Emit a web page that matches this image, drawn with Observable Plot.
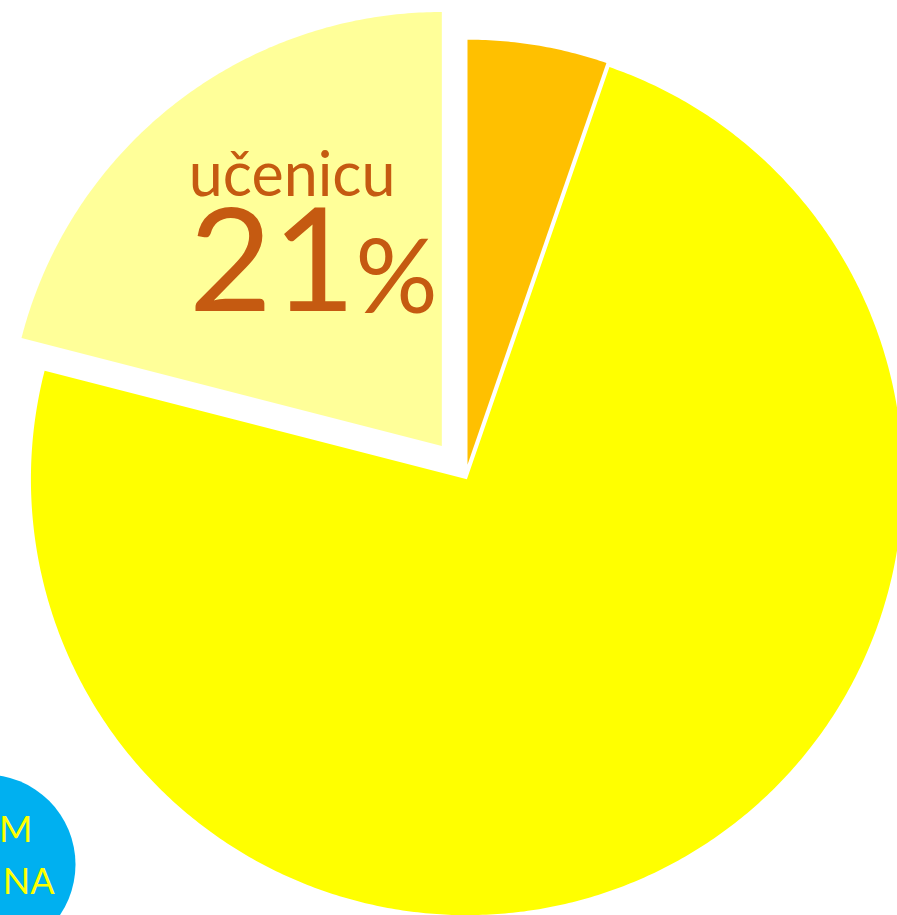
<!DOCTYPE html>
<html><head><meta charset="utf-8">
<script src="https://cdn.jsdelivr.net/npm/d3@7"></script>
<script src="https://cdn.jsdelivr.net/npm/@observablehq/plot@0.6"></script>
<style>html,body{margin:0;padding:0;background:#fff;overflow:hidden}svg{display:block}</style>
</head><body><div id="chart"></div>
<script>
// ---- data ----
const categories = ["segment 1", "segment 2", "učenicu"];
const shares = [5.3, 73.7, 21];
const sliceColors = ["#FFC000", "#FFFF00", "#FFFF99"];
const labelCategory = "učenicu";
const badgeLines = ["M", "NA"];

// ---- layout ----
const W = 897, H = 915;
const cx = 465, cy = 476, S = 436;
const explode = [12 / S, 3 / S, 38.6 / S];
const radius = [425 / S, 1, 434 / S];

const total = d3.sum(shares);
let acc = 0;
const slices = shares.map((v, i) => {
  const a0 = acc / total * 2 * Math.PI; acc += v;
  const a1 = acc / total * 2 * Math.PI;
  const mid = (a0 + a1) / 2;
  return {name: categories[i], value: v, a0, a1,
    ox: explode[i] * Math.sin(mid), oy: explode[i] * Math.cos(mid), r: radius[i]};
});
const pts = slices.flatMap(s => {
  const n = Math.max(2, Math.ceil((s.a1 - s.a0) / (Math.PI / 360)));
  const arr = [{name: s.name, x: s.ox, y: s.oy}];
  for (let k = 0; k <= n; k++) {
    const t = s.a0 + (s.a1 - s.a0) * k / n;
    arr.push({name: s.name, x: s.ox + s.r * Math.sin(t), y: s.oy + s.r * Math.cos(t)});
  }
  return arr;
});
const lab = slices.filter(s => s.name === labelCategory);
const labColor = "#C55A11";
const font = "Lato, 'Open Sans', sans-serif";

const chart = Plot.plot({
  width: W, height: H, margin: 0,
  x: {domain: [-cx / S, (W - cx) / S], axis: null},
  y: {domain: [(cy - H) / S, cy / S], axis: null},
  color: {domain: categories, range: sliceColors},
  style: {fontFamily: font, background: "white", overflow: "visible"},
  marks: [
    Plot.line(pts, {x: "x", y: "y", z: "name", fill: "name", stroke: "none", curve: "linear"}),
    Plot.text(lab, {x: "ox", y: "oy", text: d => d.name, textAnchor: "start", fontSize: 61, fill: labColor, dx: -253, dy: -269.5}),
    Plot.text(lab, {x: "ox", y: "oy", text: d => String(Math.round(d.value)), textAnchor: "start", fontSize: 144, fill: labColor, dx: -253, dy: -181}),
    Plot.text(lab, {x: "ox", y: "oy", text: d => "%", textAnchor: "end", fontSize: 103, fill: labColor, dx: -4, dy: -166}),
    Plot.dot([0], {frameAnchor: "bottom-left", r: 90, fill: "#00B0F0", stroke: "none", dx: -15, dy: -51}),
    Plot.text([badgeLines[0]], {frameAnchor: "bottom-left", text: d => d, textAnchor: "end", fontSize: 36, fill: "#FFFF00", dx: 32, dy: -73.5}),
    Plot.text([badgeLines[1]], {frameAnchor: "bottom-left", text: d => d, textAnchor: "end", fontSize: 36, fill: "#FFFF00", dx: 54, dy: -21.5})
  ]
});
document.getElementById("chart").append(chart);
</script>
</body></html>
